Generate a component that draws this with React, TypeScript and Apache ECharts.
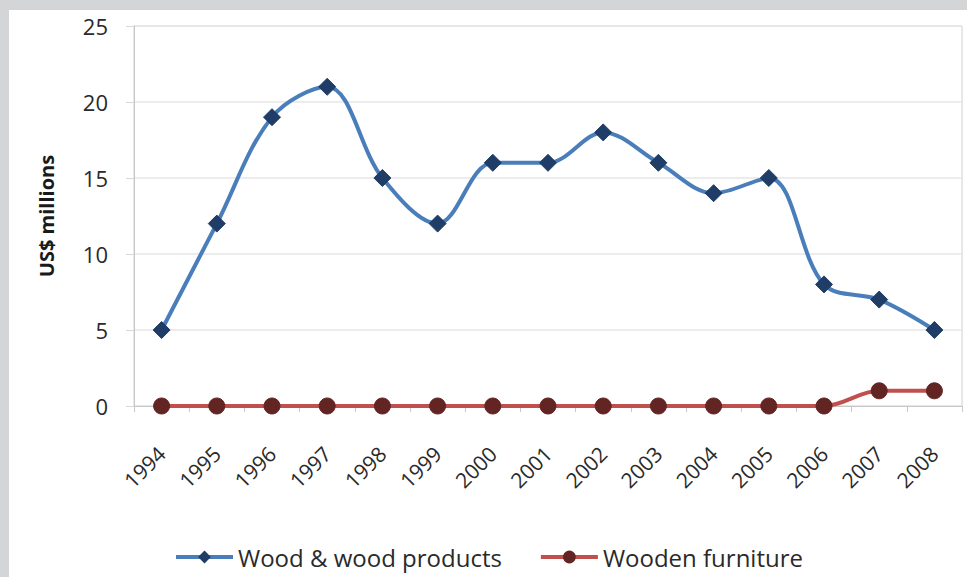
import React, { useEffect, useRef } from "react";
import * as echarts from "echarts";

const years = ["1994","1995","1996","1997","1998","1999","2000","2001","2002","2003","2004","2005","2006","2007","2008"];
const woodProducts = [5, 12, 19, 21, 15, 12, 16, 16, 18, 16, 14, 15, 8, 7, 5];
const woodenFurniture = [0, 0, 0, 0, 0, 0, 0, 0, 0, 0, 0, 0, 0, 1, 1];
const yTicks = { min: 0, max: 25, interval: 5 };

const FONT = "'Open Sans', sans-serif";

export default function App() {
  const ref = useRef<HTMLDivElement>(null);
  useEffect(() => {
    if (!ref.current) return;
    const chart = echarts.init(ref.current, undefined, { renderer: "svg" });
    chart.setOption({
      animation: false,
      backgroundColor: "#ffffff",
      textStyle: { fontFamily: FONT },
      grid: { left: 125, top: 16, right: 5, bottom: 171, show: true, borderColor: "#d0d0d0", borderWidth: 1, backgroundColor: "transparent" },
      legend: {
        left: 160,
        top: 530,
        itemWidth: 57,
        itemHeight: 16,
        itemGap: 37,
        lineStyle: { width: 4 },
        textStyle: { fontFamily: FONT, fontSize: 24, color: "#2a2a2a", padding: [0, 0, 0, 0] },
        data: ["Wood & wood products", "Wooden furniture"],
      },
      xAxis: {
        type: "category",
        data: years,
        boundaryGap: true,
        axisLine: { show: true, lineStyle: { color: "#c8c8c8", width: 1 } },
        axisTick: { show: true, length: 6, lineStyle: { color: "#c8c8c8" } },
        axisLabel: { rotate: 45, margin: 44, fontSize: 21, color: "#2a2a2a", fontFamily: FONT, interval: 0 },
        splitLine: { show: false },
      },
      yAxis: {
        type: "value",
        min: yTicks.min,
        max: yTicks.max,
        interval: yTicks.interval,
        name: "US$ millions",
        nameLocation: "middle",
        nameGap: 78,
        nameTextStyle: { fontFamily: FONT, fontSize: 20, fontWeight: "bold", color: "#1a1a1a" },
        axisLine: { show: true, lineStyle: { color: "#c8c8c8", width: 1 } },
        axisTick: { show: true, length: 8, lineStyle: { color: "#d8d8d8" } },
        axisLabel: { margin: 26, fontSize: 22, color: "#2a2a2a", fontFamily: FONT },
        splitLine: { show: true, lineStyle: { color: "#e6e6e6", width: 1.5 } },
      },
      series: [
        {
          name: "Wood & wood products",
          type: "line",
          data: woodProducts,
          smooth: 0.35,
          symbol: "diamond",
          symbolSize: 17,
          lineStyle: { color: "#4a7ebb", width: 4 },
          itemStyle: { color: "#1f3d66", borderColor: "#1f3d66" },
          z: 3,
        },
        {
          name: "Wooden furniture",
          type: "line",
          data: woodenFurniture,
          smooth: 0.35,
          symbol: "circle",
          symbolSize: 16,
          lineStyle: { color: "#c0504d", width: 4 },
          itemStyle: { color: "#632523", borderColor: "#632523" },
          z: 4,
        },
      ],
    });
    return () => chart.dispose();
  }, []);
  return (
    <div style={{ position: "fixed", left: 0, top: 0, width: 967, height: 577, background: "#d4d5d7" }}>
      <div ref={ref} style={{ position: "absolute", left: 9, top: 10, width: 958, height: 567 }} />
    </div>
  );
}
